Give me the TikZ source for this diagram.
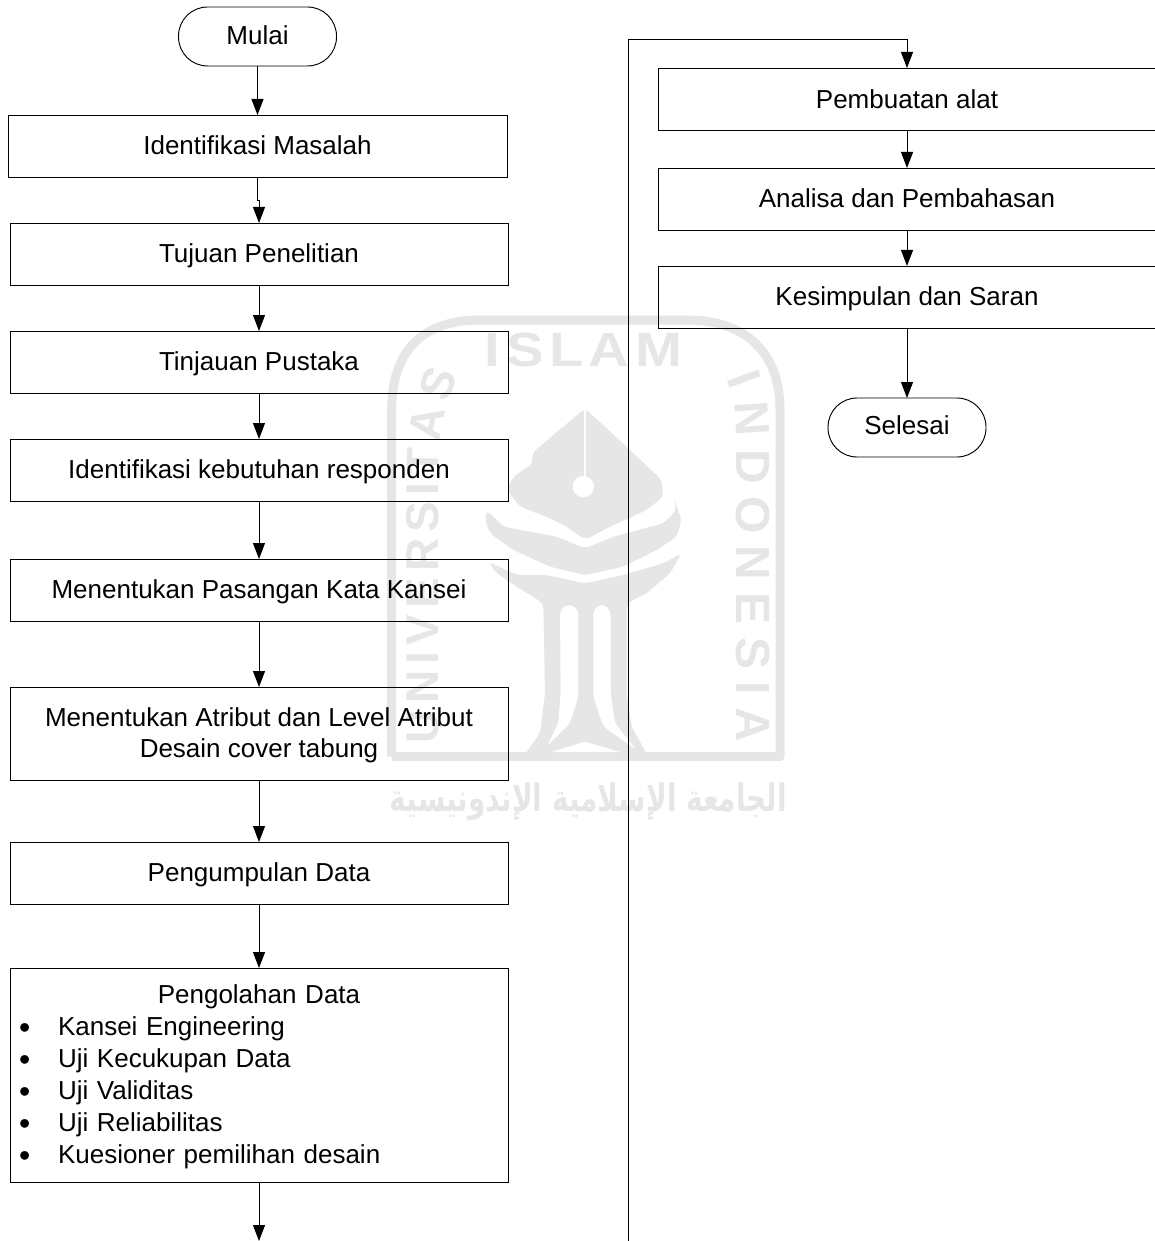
\documentclass[tikz,border=0pt]{standalone}
\usepackage{fontspec}
\usepackage{graphicx}
\setmainfont{Liberation Sans}
\newfontfamily\wmfont[LetterSpace=28]{Liberation Sans}
\newfontfamily\wmtight[LetterSpace=10]{Liberation Sans}
\newfontfamily\arabicfont[Script=Arabic]{DejaVu Sans Bold}
\TeXXeTstate=1
\usetikzlibrary{arrows.meta,decorations.text}
\definecolor{wm}{HTML}{E6E6E6}
\newcommand{\itemline}[1]{\hspace*{9pt}\makebox[39pt][l]{\raisebox{-3pt}{\fontsize{32}{32}\selectfont •}}#1}
\tikzset{
  boxbase/.style={draw=black,line width=0.95pt,inner sep=0pt,outer sep=0pt,minimum width=498pt,minimum height=62pt,
    align=center,font=\fontsize{26}{31}\selectfont},
  boxnode/.style={boxbase,text height=20.5pt,text depth=3.5pt},
  termnode/.style={boxnode,rounded corners=29pt,minimum width=158pt,minimum height=59pt},
  flow/.style={draw=black,line width=0.95pt,-{Triangle[length=16pt,width=12pt]}},
}
\begin{document}
\begin{tikzpicture}[x=1pt,y=-1pt]
\clip (0,0) rectangle (1155,1241);
% faint watermark behind the chart
\begin{scope}[shift={(370,310)},x=0.33333pt,y=-0.33333pt]
  \draw[wm,line width=9pt,line join=round] (65,1340) -- (65,300) .. controls (65,120) and (160,30) .. (330,30)
     -- (950,30) .. controls (1130,30) and (1230,130) .. (1230,300) -- (1230,1340) -- (65,1340);
  \node[text=wm,inner sep=0pt] (wmislam) at (640,120)
     {\resizebox*{197pt}{34pt}{\wmtight\bfseries ISLAM}};
  \path[postaction={decorate,decoration={text along path,text align={fit to path},
     text={|\fontsize{48}{48}\selectfont\wmfont\bfseries\color{wm}|INDONESIA}}}]
     (1070,205) .. controls (1090,250) and (1100,300) .. (1100,380) -- (1100,1295);
  \path[postaction={decorate,decoration={text along path,text align={fit to path},
     text={|\fontsize{46}{46}\selectfont\wmfont\bfseries\color{wm}|UNIVERSITAS}}}]
     (205,1300) -- (205,480) .. controls (205,380) and (225,280) .. (265,195);
  % lamp flame
  \fill[wm,rounded corners=5pt] (645,295) -- (780,420) -- (875,510) -- (880,560) -- (830,600) -- (720,650)
     -- (645,690) -- (590,650) -- (540,625) -- (450,590) -- (410,540) -- (430,500) -- (490,460) -- (485,430) -- cycle;
  \draw[white,line width=2pt] (645,295) -- (645,510);
  \fill[white] (640,530) circle (32);
  % leaves
  \fill[wm,rounded corners=5pt] (350,600) -- (400,650) -- (560,680) -- (645,715) -- (730,680) -- (880,640)
     -- (920,600) -- (910,560) -- (935,630) -- (920,680) -- (860,720) -- (760,770) -- (645,795)
     -- (540,770) -- (430,720) -- (360,670) -- (345,630) -- cycle;
  % trunk
  \fill[wm,rounded corners=5pt] (355,755) -- (440,795) -- (530,795) -- (645,820) -- (760,795) -- (880,760)
     -- (935,730) -- (900,790) -- (830,850) -- (770,880) -- (770,1150) -- (785,1250) -- (835,1340)
     -- (460,1340) -- (510,1270) -- (525,1150) -- (520,880) -- (440,830) -- (380,790) -- cycle;
  \fill[white,rounded corners=5pt] (570,900) -- (597,880) -- (625,900) -- (625,1160) -- (600,1240) -- (530,1310)
     -- (565,1240) -- (572,1150) -- cycle;
  \fill[white,rounded corners=5pt] (670,900) -- (695,880) -- (722,900) -- (722,1150) -- (735,1240) -- (800,1320)
     -- (700,1250) -- (670,1160) -- cycle;
  \fill[white] (545,1326) -- (645,1295) -- (750,1326) -- cycle;
  \node[text=wm,inner sep=0pt] (wmarab) at (655,1475)
     {\resizebox*{397pt}{38pt}{\arabicfont\beginR الجامعة الإسلامية الإندونيسية\endR}};
\end{scope}
% left column
\node[termnode] (mulai) at (257.5,36.5) {Mulai};
\node[boxnode,minimum width=499pt] (im) at (257.5,146) {Identifikasi Masalah};
\node[boxnode] (tp) at (259,254) {Tujuan Penelitian};
\node[boxnode] (tj) at (259,362) {Tinjauan Pustaka};
\node[boxnode] (ik) at (259,470) {Identifikasi kebutuhan responden};
\node[boxnode] (pk) at (259,590) {Menentukan Pasangan Kata Kansei};
\node[boxnode,minimum height=93pt,text height=51.5pt,text depth=3.5pt] (at) at (259,733.5) {Menentukan Atribut dan Level Atribut\\Desain cover tabung};
\node[boxnode] (pg) at (259,873) {Pengumpulan Data};
\node[boxbase,minimum height=214pt,text width=498pt,align=left,
      font=\fontsize{26}{32}\selectfont,text height=21pt,text depth=164pt] (pd) at (259,1075)
  {\makebox[498pt][c]{Pengolahan Data}\\
   \itemline{Kansei Engineering}\\
   \itemline{Uji Kecukupan Data}\\
   \itemline{Uji Validitas}\\
   \itemline{Uji Reliabilitas}\\
   \itemline{Kuesioner pemilihan desain}};
% right column
\node[boxnode,text height=22pt,text depth=2pt] (pa) at (907,99) {Pembuatan alat};
\node[boxnode] (ap) at (907,199) {Analisa dan Pembahasan};
\node[boxnode] (ks) at (907,297) {Kesimpulan dan Saran};
\node[termnode,text height=18.5pt,text depth=5.5pt] (sl) at (907,427.5) {Selesai};
% free ends
\coordinate (leftend) at (259,1241);
\coordinate (rightstart) at (628.5,1245);
\coordinate (topleft) at (628.5,39);
\coordinate (topright) at (907,39);
% connectors
\draw[flow] (mulai.south) -- (im.north);
\draw[flow] (im.south) -- ++(0,23) -| (tp.north);
\draw[flow] (tp.south) -- (tj.north);
\draw[flow] (tj.south) -- (ik.north);
\draw[flow] (ik.south) -- (pk.north);
\draw[flow] (pk.south) -- (at.north);
\draw[flow] (at.south) -- (pg.north);
\draw[flow] (pg.south) -- (pd.north);
\draw[flow] (pd.south) -- (leftend);
\draw[flow] (rightstart) -- (topleft) -- (topright) -- (pa.north);
\draw[flow] (pa.south) -- (ap.north);
\draw[flow] (ap.south) -- (ks.north);
\draw[flow] (ks.south) -- (sl.north);
\end{tikzpicture}
\end{document}
